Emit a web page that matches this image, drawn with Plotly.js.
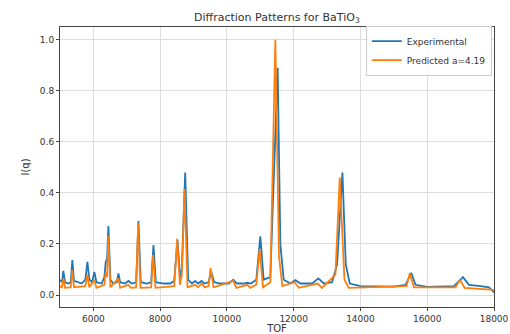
<!DOCTYPE html>
<html>
<head>
<meta charset="utf-8">
<script src="https://cdn.plot.ly/plotly-3.0.1.min.js"></script>
<style>html,body{margin:0;padding:0;background:#fff;}#chart{width:510px;height:334px;}</style>
</head>
<body>
<div id="chart"></div>
<script>
var expX = [5000,5060,5100,5150,5250,5320,5370,5420,5550,5650,5760,5820,5880,5960,6030,6090,6250,6330,6370,6410,6450,6510,6600,6700,6750,6800,6950,7050,7150,7280,7350,7420,7600,7730,7800,7870,8100,8300,8420,8520,8600,8650,8750,8840,8950,9050,9130,9240,9320,9450,9530,9620,9800,10050,10190,10300,10500,10610,10720,10880,11000,11100,11300,11420,11520,11600,11700,11900,12050,12200,12550,12740,12900,13150,13300,13460,13560,13680,14000,15000,15350,15520,15650,16000,16800,17070,17250,17600,17850,18000];
var expY = [0.06,0.05,0.095,0.05,0.045,0.05,0.137,0.055,0.05,0.045,0.06,0.13,0.06,0.05,0.09,0.05,0.045,0.07,0.13,0.14,0.27,0.06,0.045,0.05,0.085,0.05,0.045,0.055,0.045,0.05,0.29,0.05,0.045,0.05,0.196,0.05,0.045,0.045,0.055,0.215,0.07,0.1,0.48,0.06,0.045,0.055,0.045,0.055,0.045,0.05,0.09,0.05,0.045,0.045,0.06,0.045,0.045,0.048,0.045,0.06,0.23,0.06,0.07,0.5,0.89,0.2,0.06,0.045,0.058,0.045,0.045,0.065,0.045,0.05,0.12,0.48,0.12,0.045,0.035,0.033,0.04,0.087,0.04,0.032,0.035,0.07,0.04,0.035,0.03,0.01];
var predX = [5000,5060,5100,5150,5320,5370,5420,5760,5820,5880,6030,6090,6330,6370,6410,6450,6510,6750,6800,7050,7120,7280,7340,7410,7730,7790,7860,8420,8510,8590,8650,8730,8820,9050,9140,9240,9330,9450,9510,9600,10190,10280,10610,10700,10880,10980,11080,11300,11450,11560,11660,12030,12150,12720,12850,13250,13380,13520,13650,15380,15480,15600,16850,16980,17120,18000];
var predY = [0.035,0.03,0.065,0.028,0.03,0.098,0.03,0.035,0.08,0.03,0.06,0.028,0.04,0.09,0.07,0.23,0.03,0.065,0.028,0.04,0.028,0.03,0.28,0.028,0.03,0.157,0.028,0.035,0.22,0.04,0.08,0.415,0.03,0.04,0.03,0.045,0.03,0.035,0.105,0.03,0.055,0.028,0.04,0.028,0.04,0.18,0.03,0.05,1.0,0.15,0.035,0.05,0.028,0.045,0.028,0.08,0.46,0.06,0.028,0.035,0.085,0.03,0.03,0.06,0.028,0.02];
var xTicks = [6000,8000,10000,12000,14000,16000,18000];
var yTicks = [0.0,0.2,0.4,0.6,0.8,1.0];

var font = 'DejaVu Sans, sans-serif';
var traces = [
  {x: expX, y: expY, type: 'scatter', mode: 'lines', name: 'Experimental',
   line: {color: '#1f77b4', width: 1.8}},
  {x: predX, y: predY, type: 'scatter', mode: 'lines', name: 'Predicted a=4.19',
   line: {color: '#ff7f0e', width: 1.8}}
];
var axisCommon = {
  showline: true, mirror: true, linecolor: '#444', linewidth: 1,
  showgrid: true, gridcolor: '#dedede', gridwidth: 1,
  ticks: 'outside', ticklen: 3, tickcolor: '#444',
  tickfont: {family: font, size: 9, color: '#333'}, zeroline: false
};
var layout = {
  width: 510, height: 334,
  margin: {l: 60, r: 16, t: 27, b: 27},
  paper_bgcolor: '#fff', plot_bgcolor: '#fff',
  title: {text: 'Diffraction Patterns for BaTiO<sub>3</sub>', font: {family: font, size: 11, color: '#333'},
          x: 0.543, xanchor: 'center', y: 0.95, yanchor: 'middle'},
  xaxis: Object.assign({}, axisCommon, {
    range: [5000, 18000], tickvals: xTicks, ticktext: xTicks.map(String),
    title: {text: 'TOF', font: {family: font, size: 10, color: '#333'}, standoff: 2}
  }),
  yaxis: Object.assign({}, axisCommon, {
    range: [-0.047, 1.05], tickvals: yTicks, ticktext: yTicks.map(function(v){return v.toFixed(1);}),
    title: {text: 'I(q)', font: {family: font, size: 10, color: '#333'}, standoff: 8}
  }),
  showlegend: true,
  legend: {x: 0.995, y: 1.005, xanchor: 'right', yanchor: 'top', bgcolor: 'rgba(255,255,255,0.9)',
           bordercolor: '#ccc', borderwidth: 1, font: {family: font, size: 9, color: '#333'},
           tracegroupgap: 0, itemwidth: 30}
};
Plotly.newPlot('chart', traces, layout, {staticPlot: true, displayModeBar: false});
</script>
</body>
</html>
